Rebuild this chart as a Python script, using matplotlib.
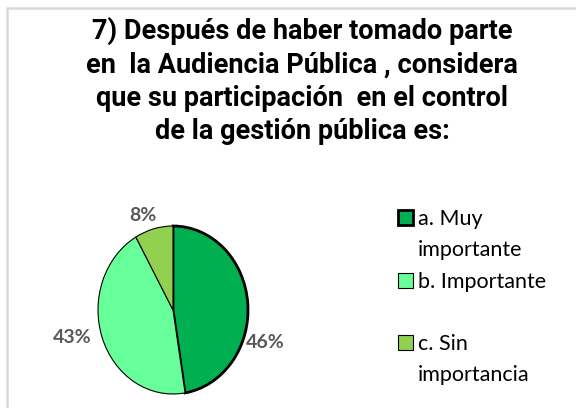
import matplotlib
matplotlib.use("Agg")
import matplotlib.pyplot as plt
from matplotlib.patches import Rectangle

titulo = ("7) Después de haber tomado parte\n"
          "en  la Audiencia Pública , considera\n"
          "que su participación  en el control\n"
          "de la gestión pública es:")
categorias = ["a. Muy\nimportante", "b. Importante", "c. Sin\nimportancia"]
porcentajes = [46, 43, 8]
colores = ["#00B050", "#66FF99", "#92D050"]

W, H = 576, 408
fig = plt.figure(figsize=(W / 100, H / 100), dpi=100)


def fx(px):
    return px / W


def fy(py):
    return 1 - py / H


# marco gris (recortado a la derecha y abajo)
fig.patches.append(Rectangle((fx(7), -0.2), 1.5, fy(8) + 0.2, transform=fig.transFigure,
                             fill=False, ec="#D9D9D9", lw=1.8))

fig.text(fx(302), fy(17), titulo, ha="center", va="top", fontsize=19.5, fontweight="bold",
         family=["Roboto", "DejaVu Sans"], linespacing=1.3)

# torta
ax = fig.add_axes([fx(53), 0, fx(240), 218 / H])
wedges, texts = ax.pie(porcentajes, colors=colores, startangle=90, counterclock=False,
                       labels=[f"{p}%" for p in porcentajes], labeldistance=1.25,
                       wedgeprops=dict(edgecolor="black", linewidth=0.8),
                       textprops=dict(fontsize=14, fontweight="bold", color="#595959",
                                      family=["Lato", "DejaVu Sans"]))
wedges[0].set_linewidth(2.0)
ax.set_aspect("auto")
ax.set_xlim(-1.6, 1.6)
ax.set_ylim(-98 / 84, 120 / 84)

pos_etiquetas = [(1.23, -0.39), (-1.35, -0.33), (-0.40, 1.13)]
for t, p in zip(texts, pos_etiquetas):
    t.set_position(p)
    t.set_ha("center")
    t.set_va("center")

# leyenda
for i, (cat, col) in enumerate(zip(categorias, colores)):
    base = 225 + i * 62.5
    lw = 2.0 if i == 0 else 0.8
    fig.patches.append(Rectangle((fx(398), fy(base)), 15 / W, 15 / H, transform=fig.transFigure,
                                 fc=col, ec="black", lw=lw))
    for k, linea in enumerate(cat.split("\n")):
        fig.text(fx(418), fy(base + k * 31), linea, ha="left", va="baseline", fontsize=15.5,
                 color="#000000", family=["Lato", "DejaVu Sans"])

fig.savefig("out.png", dpi=100)
